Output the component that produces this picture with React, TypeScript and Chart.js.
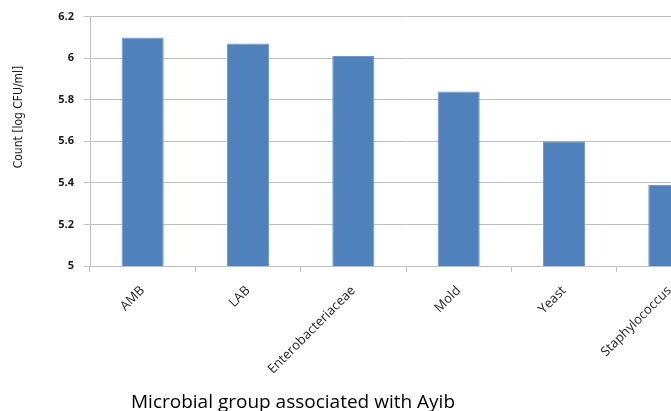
import React, { useEffect, useRef } from "react";
import { Chart, registerables } from "chart.js";

Chart.register(...registerables);

const categories = ["AMB", "LAB", "Enterobacteriaceae", "Mold", "Yeast", "Staphylococcus"];
const counts = [6.10, 6.07, 6.01, 5.84, 5.60, 5.39];
const yTicks = ["5", "5.2", "5.4", "5.6", "5.8", "6", "6.2"];
const yTitle = "Count [log CFU/ml]";
const xTitle = "Microbial group associated with Ayib";

const titlesPlugin = {
  id: "customTitles",
  afterDraw(chart: any) {
    const ctx = chart.ctx;
    ctx.save();
    ctx.fillStyle = "#1a1a1a";
    ctx.textAlign = "center";
    ctx.textBaseline = "middle";
    ctx.font = "12px 'Liberation Sans Narrow', 'DejaVu Sans Condensed', sans-serif";
    ctx.translate(19, 117);
    ctx.rotate(-Math.PI / 2);
    ctx.fillText(yTitle, 0, 0);
    ctx.restore();

    ctx.save();
    ctx.fillStyle = "#000";
    ctx.textAlign = "center";
    ctx.textBaseline = "alphabetic";
    ctx.font = "19px 'Open Sans', sans-serif";
    ctx.fillText(xTitle, 293, 408);
    ctx.restore();
  },
};

export default function App() {
  const ref = useRef<HTMLCanvasElement | null>(null);
  useEffect(() => {
    if (!ref.current) return;
    const chart = new Chart(ref.current, {
      type: "bar",
      data: {
        labels: categories,
        datasets: [
          {
            data: counts,
            backgroundColor: "#4F81BD",
            borderColor: "#6E98CC",
            borderWidth: 1,
            categoryPercentage: 1,
            barPercentage: 0.4,
          },
        ],
      },
      options: {
        animation: false,
        responsive: false,
        maintainAspectRatio: false,
        layout: { padding: { left: 30, top: 12, right: 8, bottom: 0 } },
        plugins: { legend: { display: false }, tooltip: { enabled: false } },
        scales: {
          x: {
            grid: { drawOnChartArea: false, tickLength: 6, color: "#BFBFBF" },
            border: { color: "#BFBFBF" },
            ticks: {
              minRotation: 45,
              maxRotation: 45,
              color: "#1a1a1a",
              font: { family: "'Open Sans', sans-serif", size: 13 },
              padding: 11,
            },
            afterFit: (s: any) => {
              s.height = 145;
            },
          },
          y: {
            min: 5,
            max: 6.2,
            ticks: {
              stepSize: 0.2,
              padding: 10,
              color: "#1a1a1a",
              font: { family: "'Open Sans', sans-serif", size: 11, weight: "bold" },
              callback: (_v: any, i: number) => yTicks[i],
            },
            grid: { color: "#BFBFBF", tickLength: 6 },
            border: { color: "#BFBFBF" },
            afterFit: (s: any) => {
              s.width = 60;
            },
          },
        },
      },
      plugins: [titlesPlugin],
    });
    return () => chart.destroy();
  }, []);
  return (
    <div
      style={{
        position: "fixed",
        left: 0,
        top: 0,
        width: 671,
        height: 411,
        overflow: "hidden",
        background: "#fff",
      }}
    >
      <canvas ref={ref} width={730} height={411} style={{ display: "block" }} />
    </div>
  );
}
